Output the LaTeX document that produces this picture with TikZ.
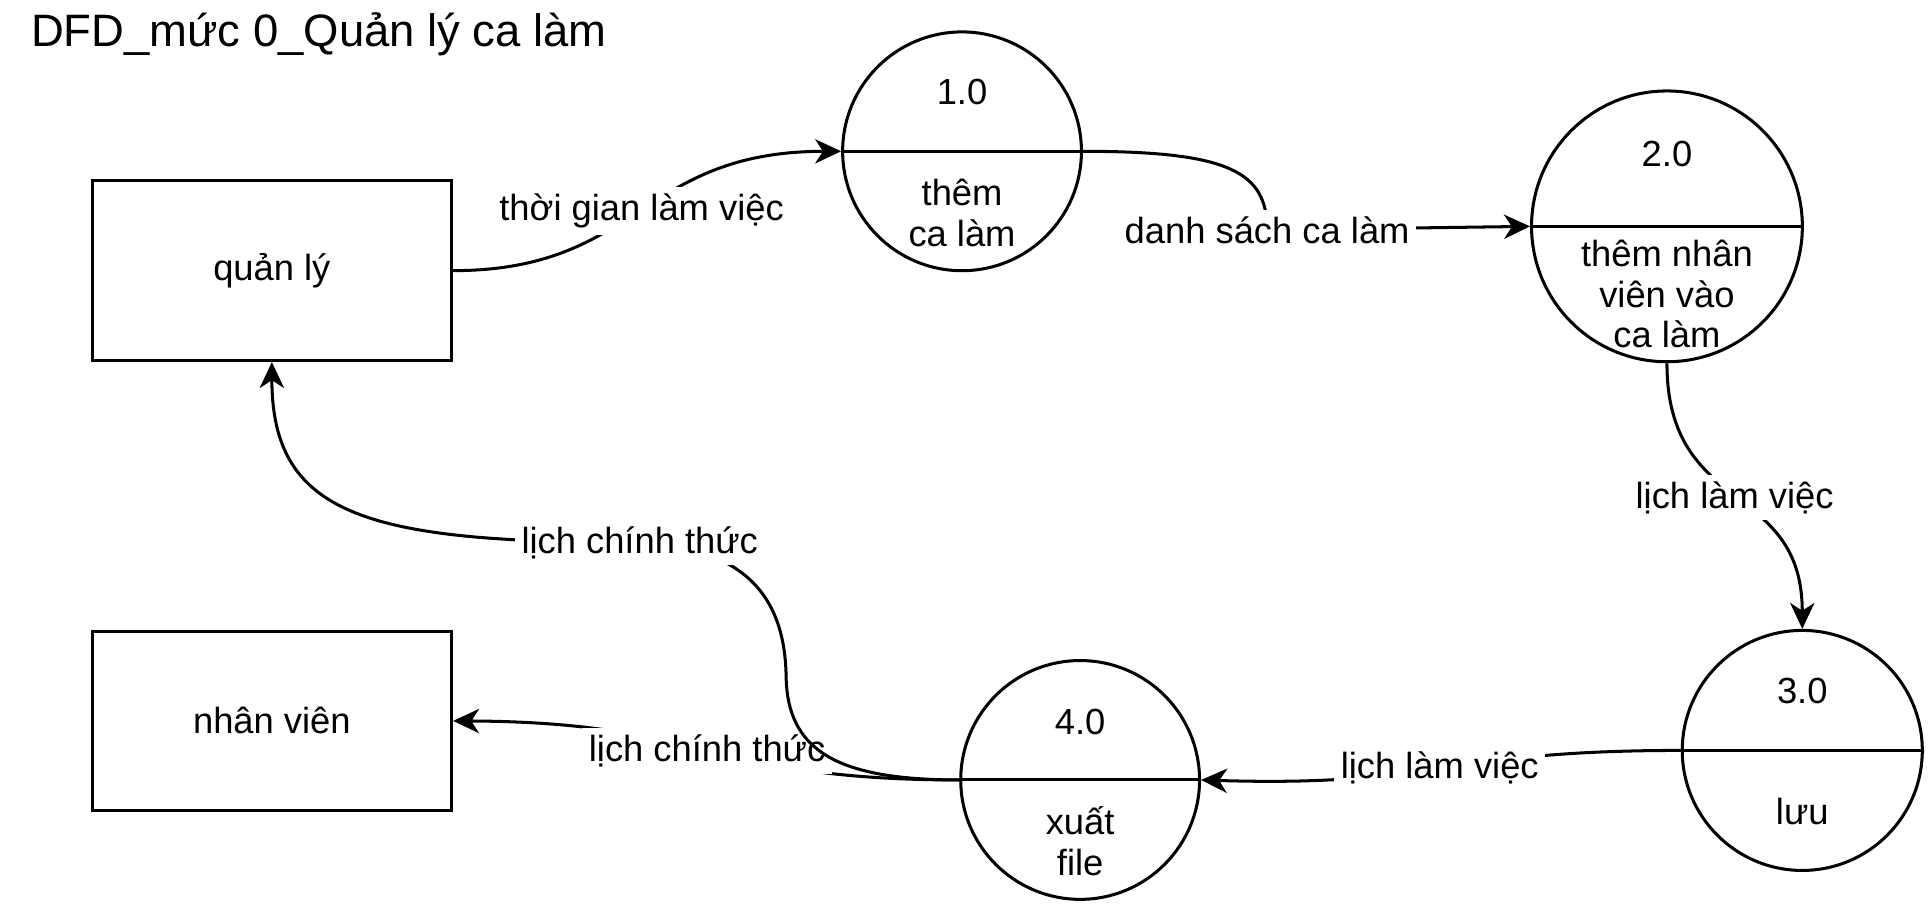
\documentclass[tikz,border=0pt]{standalone}
\usepackage{fontspec}
\setmainfont{Liberation Sans}
\usetikzlibrary{arrows.meta}

\begin{document}
\begin{tikzpicture}[x=0.01cm, y=-0.01cm, line width=0.7pt,
    every node/.style={font=\fontsize{8.4}{9.4}\selectfont},
    entity/.style={draw, minimum width=2.92cm, minimum height=1.46cm},
    proc/.style={draw, circle, inner sep=0pt},
    flow/.style={-{Stealth[length=6pt, width=5.6pt, inset=1.8pt]}},
    lbl/.style={fill=white, inner sep=1.5pt}]
    \useasboundingbox (0,0) rectangle (1568,737);
    \node[anchor=west, inner sep=0pt, font=\fontsize{10.5}{12}\selectfont] (title) at (24,28) {DFD\_mức 0\_Quản lý ca làm};

    \node[entity] (qly) at (221,220) {quản lý};
    \node[entity] (nv) at (221,586) {nhân viên};

    \node[proc, minimum size=1.94cm] (p1) at (782,123) {};
    \node[proc, minimum size=2.2cm] (p2) at (1355,184) {};
    \node[proc, minimum size=1.95cm] (p3) at (1465,610) {};
    \node[proc, minimum size=1.94cm] (p4) at (878,634) {};
    \draw (p1.west) -- (p1.east);
    \draw (p2.west) -- (p2.east);
    \draw (p3.west) -- (p3.east);
    \draw (p4.west) -- (p4.east);

    \node (n1) at (782,75) {1.0};
    \node[align=center] (t1) at (782,173) {thêm\\ca làm};
    \node (n2) at (1355,125) {2.0};
    \node[align=center] (t2) at (1355,239) {thêm nhân\\viên vào\\ca làm};
    \node (n3) at (1465,562) {3.0};
    \node (t3) at (1465,660) {lưu};
    \node (n4) at (878,587) {4.0};
    \node[align=center] (t4) at (878,684) {xuất\\file};

    \draw[flow] (qly.east) .. controls (520,220) and (520,123) .. (p1.west) node[lbl, pos=0.5] {thời gian làm việc};
    \draw[flow] (p1.east) .. controls (1000,123) and (1030,140) .. (1030,187) node[lbl] {danh sách ca làm} -- (p2.west);
    \draw[flow] (p2.south) .. controls (1355,420) and (1465,390) .. (p3.north) node[lbl, pos=0.5] {lịch làm việc};
    \draw[flow] (p3.west) .. controls (1170,610) and (1170,640) .. (p4.east) node[lbl, pos=0.5] {lịch làm việc};
    \draw[flow] (p4.west) .. controls (575,634) and (575,587) .. (nv.east) node[lbl, pos=0.5] {lịch chính thức};
    \draw[flow] (p4.west) .. controls (680,634) and (640,610) .. (639,550) .. controls (638,480) and (600,445) .. (520,441) node[lbl] {lịch chính thức} .. controls (300,441) and (221,420) .. (qly.south);
\end{tikzpicture}
\end{document}
